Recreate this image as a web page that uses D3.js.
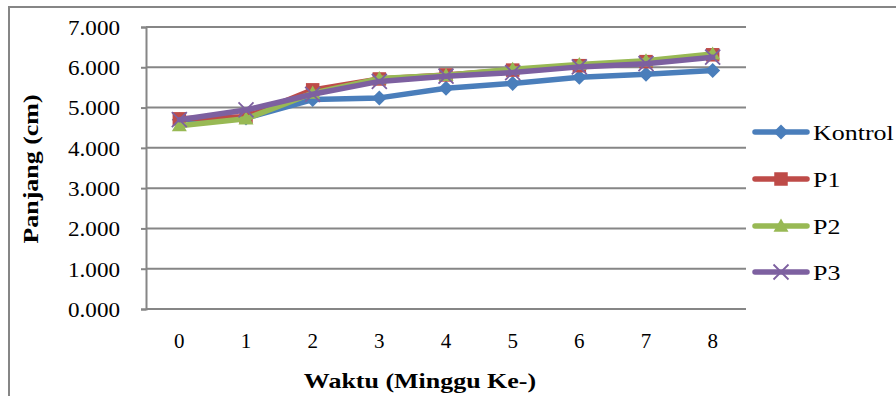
<!DOCTYPE html>
<html><head><meta charset="utf-8">
<script src="https://cdn.jsdelivr.net/npm/d3@7"></script>
<style>
html,body{margin:0;padding:0;background:#fff;}
svg{display:block;}
</style></head>
<body>
<svg id="c" width="896" height="396"></svg>
<script>
const categories = ["0","1","2","3","4","5","6","7","8"];
const kontrol = [4.70, 4.74, 5.20, 5.24, 5.48, 5.60, 5.75, 5.83, 5.92];
const p1      = [4.72, 4.77, 5.44, 5.71, 5.81, 5.93, 6.04, 6.14, 6.31];
const p2      = [4.55, 4.72, 5.36, 5.72, 5.80, 5.95, 6.07, 6.16, 6.33];
const p3      = [4.70, 4.94, 5.33, 5.65, 5.78, 5.87, 6.01, 6.09, 6.25];
const seriesNames = ["Kontrol","P1","P2","P3"];
const seriesColors = ["#4A7EBB","#BE4B48","#98B954","#7D60A0"];
const markerTypes = ["diamond","square","triangle","x"];
const yTicks = [0,1,2,3,4,5,6,7];
const yTitle = "Panjang (cm)";
const xTitle = "Waktu (Minggu Ke-)";

const seriesValues = [kontrol,p1,p2,p3];
const FONT = "Liberation Serif";
const svg = d3.select("#c");
const L = 146, R = 746, T = 27, B = 309;
const grid = "#868686";

function stretch(sel, k){
  sel.each(function(){
    const w = this.getComputedTextLength();
    d3.select(this).attr("textLength", w*k).attr("lengthAdjust","spacingAndGlyphs");
  });
}

svg.append("path").attr("d","M9,400 L9,7 L900,7").attr("fill","none").attr("stroke",grid).attr("stroke-width",2);

const x = d3.scaleBand().domain(categories).range([L,R]).padding(0);
const y = d3.scaleLinear().domain([0,7]).range([B,T]);

svg.append("g").selectAll("line").data(yTicks).join("line")
  .attr("x1",L).attr("x2",R).attr("y1",d=>y(d)).attr("y2",d=>y(d))
  .attr("stroke",grid).attr("stroke-width",2);

const ya = svg.append("g").attr("transform",`translate(${L},0)`)
  .call(d3.axisLeft(y).tickValues(yTicks).tickSize(5).tickPadding(21).tickFormat(d=>d3.format(".3f")(d)));
ya.attr("font-family",FONT).attr("font-size",21);
ya.select(".domain").attr("stroke",grid).attr("stroke-width",2);
ya.selectAll(".tick line").attr("stroke",grid).attr("stroke-width",2);
ya.selectAll("text").attr("font-family",FONT).attr("font-size",21).attr("dy","0.35em").attr("fill","#000");
stretch(ya.selectAll("text"), 1.1);

const xa = svg.append("g").attr("transform",`translate(0,${B})`)
  .call(d3.axisBottom(x).tickSize(0).tickPadding(24));
xa.attr("font-family",FONT).attr("font-size",21);
xa.select(".domain").remove();
xa.selectAll("text").attr("font-family",FONT).attr("font-size",21).attr("dy","0.71em").attr("fill","#000");

const xt = svg.append("text").attr("x",420).attr("y",388).attr("text-anchor","middle")
  .attr("font-family",FONT).attr("font-size",22).attr("font-weight","bold").text(xTitle);
stretch(xt, 1.18);
const yt = svg.append("text").attr("transform","translate(38,169) rotate(-90)").attr("text-anchor","middle")
  .attr("font-family",FONT).attr("font-size",22).attr("font-weight","bold").text(yTitle);
stretch(yt, 1.18);

function marker(g, type, color, cx, cy, s){
  if(type==="diamond"){
    g.append("path").attr("d",`M${cx},${cy-s} L${cx+s},${cy} L${cx},${cy+s} L${cx-s},${cy} Z`).attr("fill",color);
  } else if(type==="square"){
    g.append("rect").attr("x",cx-s*0.9).attr("y",cy-s*0.9).attr("width",s*1.8).attr("height",s*1.8).attr("fill",color);
  } else if(type==="triangle"){
    g.append("path").attr("d",`M${cx},${cy-s} L${cx+s},${cy+s*0.75} L${cx-s},${cy+s*0.75} Z`).attr("fill",color);
  } else {
    g.append("path").attr("d",`M${cx-s},${cy-s} L${cx+s},${cy+s} M${cx-s},${cy+s} L${cx+s},${cy-s}`)
      .attr("stroke",color).attr("stroke-width",1.8).attr("fill","none");
  }
}

const line = d3.line().x((d,i)=>x(categories[i])+x.bandwidth()/2).y(d=>y(d));
seriesValues.forEach((vals,si)=>{
  const g = svg.append("g");
  g.append("path").datum(vals).attr("d",line).attr("fill","none")
    .attr("stroke",seriesColors[si]).attr("stroke-width",5.5).attr("stroke-linejoin","round").attr("stroke-linecap","round");
  vals.forEach((v,i)=>{
    marker(g, markerTypes[si], seriesColors[si], x(categories[i])+x.bandwidth()/2, y(v), 7.5);
  });
});

const legY = [132,179,226,272];
seriesNames.forEach((n,si)=>{
  const g = svg.append("g");
  g.append("line").attr("x1",755).attr("x2",807).attr("y1",legY[si]).attr("y2",legY[si])
    .attr("stroke",seriesColors[si]).attr("stroke-width",5.5).attr("stroke-linecap","round");
  marker(g, markerTypes[si], seriesColors[si], 781, legY[si], 7.5);
  const t = g.append("text").attr("x",813).attr("y",legY[si]).attr("dy","0.35em")
    .attr("font-family",FONT).attr("font-size",22).attr("fill","#000").text(n);
  stretch(t, 1.18);
});
</script>
</body></html>
